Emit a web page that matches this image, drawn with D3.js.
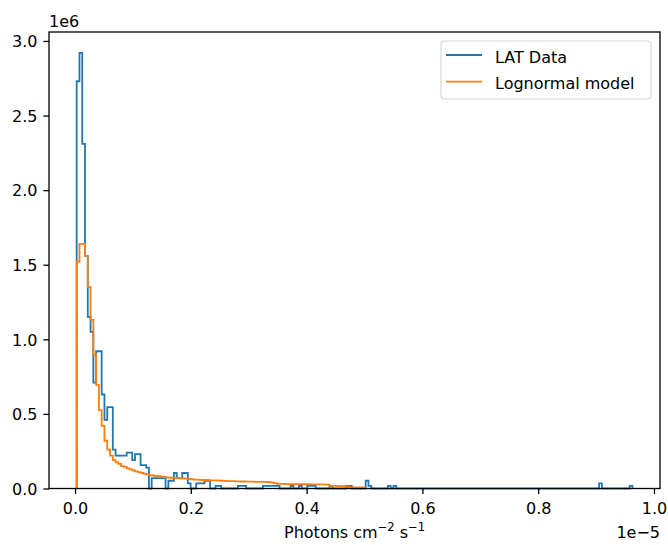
<!DOCTYPE html>
<html>
<head>
<meta charset="utf-8">
<script src="https://cdn.jsdelivr.net/npm/d3@7"></script>
<style>
	body { margin: 0; background: #fff; }
	svg { display: block; font-family: "DejaVu Sans", sans-serif; }
</style>
</head>
<body>
<svg id="chart" width="668" height="545"></svg>
<script>
// histogram bins, x in units of 1e-5 photons cm^-2 s^-1
var binStart = 0.0028;
var binWidth = 0.0048;

// LAT data density per bin (units of 1e6)
var latData = [
	2.73, 2.92, 2.31, 1.56, 1.15, 1.05, 0.71, 0.92, 0.92, 0.63,
	0.46, 0.545, 0.545, 0.26, 0.22, 0.22, 0.22, 0.22, 0.24, 0.24,
	0.19, 0.23, 0.23, 0.157, 0.157, 0.14, 0, 0.07, 0.07, 0.07,
	0.07, 0.07, 0, 0.052, 0.052, 0.104, 0.07, 0.07, 0.104, 0.104,
	0.035, 0, 0, 0.035, 0.035, 0.035, 0.052, 0.052, 0, 0,
	0.017, 0.017, 0, 0, 0, 0, 0, 0, 0.017, 0.017,
	0.017, 0, 0, 0, 0, 0, 0, 0.017, 0.017, 0.017,
	0.017, 0.017, 0.017, 0, 0, 0, 0, 0.017, 0, 0,
	0.017, 0, 0, 0.017, 0.017, 0.017, 0, 0, 0, 0,
	0, 0.017, 0, 0, 0, 0, 0, 0.017, 0.017, 0,
	0, 0, 0, 0, 0.052, 0.017, 0, 0, 0, 0,
	0, 0, 0.017, 0, 0.017, 0, 0, 0, 0, 0,
	0, 0, 0, 0, 0, 0, 0, 0, 0, 0,
	0, 0, 0, 0, 0, 0, 0, 0, 0, 0,
	0, 0, 0, 0, 0, 0, 0, 0, 0, 0,
	0, 0, 0, 0, 0, 0, 0, 0, 0, 0,
	0, 0, 0, 0, 0, 0, 0, 0, 0, 0,
	0, 0, 0, 0, 0, 0, 0, 0, 0, 0,
	0, 0, 0, 0, 0, 0, 0, 0, 0.035, 0,
	0, 0, 0, 0, 0, 0, 0, 0, 0, 0.017
];

// lognormal model density per bin (units of 1e6)
var lognormalModel = [
	1.52, 1.64, 1.64, 1.56, 1.35, 1.13, 0.895, 0.694, 0.526, 0.42,
	0.32, 0.26, 0.22, 0.19, 0.175, 0.165, 0.15, 0.145, 0.135, 0.128,
	0.122, 0.115, 0.11, 0.105, 0.1, 0.095, 0.09, 0.087, 0.085, 0.083,
	0.08, 0.078, 0.075, 0.073, 0.072, 0.07, 0.069, 0.068, 0.067, 0.066,
	0.064, 0.062, 0.06, 0.059, 0.058, 0.057, 0.057, 0.056, 0.055, 0.055,
	0.054, 0.053, 0.052, 0.051, 0.05, 0.05, 0.049, 0.048, 0.048, 0.047,
	0.047, 0.046, 0.046, 0.046, 0.045, 0.045, 0.045, 0.044, 0.044, 0.043,
	0.04, 0.036, 0.032, 0.031, 0.031, 0.03, 0.03, 0.03, 0.029, 0.03,
	0.029, 0.029, 0.028, 0.029, 0.028, 0.028, 0.027, 0.027, 0.027, 0.026,
	0.026, 0.018, 0.017, 0.017, 0.016, 0.016, 0.016, 0.01, 0.008, 0.008,
	0.008, 0.007, 0.007, 0.007
];

var xTicks = [0, 0.2, 0.4, 0.6, 0.8, 1.0];
var yTicks = [0, 0.5, 1.0, 1.5, 2.0, 2.5, 3.0];
var seriesNames = ["LAT Data", "Lognormal model"];
var seriesColors = ["#1f77b4", "#ff7f0e"];

var svg = d3.select("#chart"),
    margin = {top: 32, right: 8, bottom: 56.5, left: 49},
    width = +svg.attr("width") - margin.left - margin.right,
    height = +svg.attr("height") - margin.top - margin.bottom,
    g = svg.append("g").attr("transform", "translate(" + margin.left + "," + margin.top + ")");

var x = d3.scaleLinear()
    .domain([-0.045, 1.0104])
    .range([0, width]);

var y = d3.scaleLinear()
    .domain([0, 3.06])
    .range([height, 0]);

// step outline like matplotlib histtype='step'
function stepPoints(values) {
	var pts = [[binStart, 0]];
	values.forEach(function (v, i) {
		var x0 = binStart + i * binWidth;
		pts.push([x0, v]);
		pts.push([x0 + binWidth, v]);
	});
	pts.push([binStart + values.length * binWidth, 0]);
	return pts;
}

var line = d3.line()
    .x(function (d) { return x(d[0]); })
    .y(function (d) { return y(d[1]); });

g.append("g")
    .selectAll("path")
    .data([latData, lognormalModel])
    .enter().append("path")
      .attr("d", function (d) { return line(stepPoints(d)); })
      .attr("fill", "none")
      .attr("stroke", function (d, i) { return seriesColors[i]; })
      .attr("stroke-width", 1.8)
      .attr("stroke-linejoin", "miter");

// axes
var xAxis = g.append("g")
    .attr("transform", "translate(0," + height + ")")
    .call(d3.axisBottom(x).tickValues(xTicks).tickSize(5.6).tickPadding(8.5)
      .tickFormat(d3.format(".1f")));

var yAxis = g.append("g")
    .call(d3.axisLeft(y).tickValues(yTicks).tickSize(5.6).tickPadding(6)
      .tickFormat(d3.format(".1f")));

[xAxis, yAxis].forEach(function (a) {
	a.select(".domain").remove();
	a.selectAll("line").attr("stroke", "#000").attr("stroke-width", 1.3);
	a.selectAll("text").attr("fill", "#000").attr("font-size", 16)
	    .attr("font-family", "DejaVu Sans");
});
yAxis.selectAll("text").attr("dy", "0.36em");

// frame
g.append("rect")
    .attr("width", width)
    .attr("height", height)
    .attr("fill", "none")
    .attr("stroke", "#000")
    .attr("stroke-width", 1.3);

// offset labels
g.append("text")
    .attr("x", 0)
    .attr("y", -5.5)
    .attr("font-size", 16)
    .text("1e6");

g.append("text")
    .attr("x", width)
    .attr("y", height + 49.5)
    .attr("text-anchor", "end")
    .attr("font-size", 16)
    .text("1e\u22125");

// x label
var xl = g.append("text")
    .attr("x", width / 2)
    .attr("y", height + 49.5)
    .attr("text-anchor", "middle")
    .attr("font-size", 16);
xl.append("tspan").text("Photons cm");
xl.append("tspan").attr("dy", -7).attr("font-size", 11.5).text("\u22122");
xl.append("tspan").attr("dy", 7).text(" s");
xl.append("tspan").attr("dy", -7).attr("font-size", 11.5).text("\u22121");

// legend
var legend = g.append("g")
    .attr("transform", "translate(" + (441 - margin.left) + "," + (41 - margin.top) + ")");

legend.append("rect")
    .attr("width", 210)
    .attr("height", 58)
    .attr("rx", 3.5)
    .attr("fill", "#fff")
    .attr("fill-opacity", 0.8)
    .attr("stroke", "#d6d6d6")
    .attr("stroke-width", 1.2);

var item = legend.selectAll("g.item")
    .data(seriesNames)
    .enter().append("g")
      .attr("class", "item")
      .attr("transform", function (d, i) { return "translate(0," + (14 + i * 26.7) + ")"; });

item.append("line")
    .attr("x1", 5)
    .attr("x2", 41)
    .attr("stroke", function (d, i) { return seriesColors[i]; })
    .attr("stroke-width", 1.8);

item.append("text")
    .attr("x", 54)
    .attr("y", 7.5)
    .attr("font-size", 16)
    .attr("fill", "#000")
    .text(function (d) { return d; });
</script>
</body>
</html>
